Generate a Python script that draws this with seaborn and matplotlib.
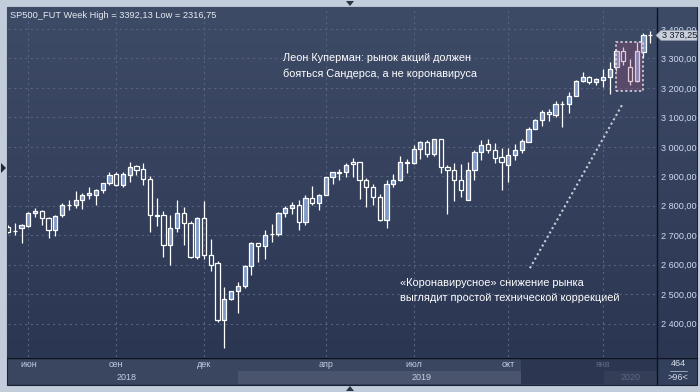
import numpy as np
import pandas as pd
import matplotlib
matplotlib.use("Agg")
import matplotlib.pyplot as plt
import seaborn as sns
from matplotlib.patches import Rectangle, Polygon
from matplotlib.lines import Line2D
from matplotlib.colors import LinearSegmentedColormap

# ---------------- data (weekly bars) ----------------
opens = [2728, 2716, 2726, 2731, 2777, 2781, 2760, 2719, 2770, 2802,
         2801, 2818, 2836, 2835, 2852, 2876, 2907, 2872, 2906, 2934,
         2926, 2892, 2768, 2767, 2668, 2723, 2777, 2743, 2626, 2757,
         2634, 2604, 2411, 2485, 2509, 2528, 2595, 2672, 2662, 2703,
         2703, 2777, 2791, 2804, 2745, 2828, 2810, 2838, 2896, 2912,
         2913, 2948, 2948, 2886, 2862, 2831, 2750, 2875, 2889, 2950,
         2944, 2991, 3015, 2976, 3025, 2933, 2920, 2889, 2821, 2923,
         2981, 3008, 2988, 2965, 2939, 2971, 2988, 3018, 3062, 3090,
         3118, 3109, 3145, 3144, 3173, 3225, 3236, 3220, 3228, 3236,
         3272, 3324, 3270, 3222, 3321, 3380]
highs = [2733, 2740, 2737, 2778, 2793, 2784, 2762, 2768, 2809, 2819,
         2849, 2844, 2862, 2856, 2878, 2915, 2915, 2913, 2947, 2940,
         2945, 2900, 2825, 2781, 2768, 2819, 2795, 2748, 2763, 2816,
         2686, 2614, 2523, 2511, 2540, 2598, 2676, 2674, 2717, 2737,
         2779, 2799, 2814, 2818, 2835, 2866, 2840, 2898, 2915, 2924,
         2946, 2963, 2950, 2895, 2875, 2841, 2887, 2909, 2968, 2960,
         3006, 3020, 3023, 3028, 3028, 2940, 2946, 2941, 2948, 2989,
         3022, 3027, 3014, 2997, 2997, 3008, 3026, 3066, 3095, 3124,
         3130, 3155, 3157, 3186, 3228, 3254, 3242, 3233, 3263, 3288,
         3332, 3338, 3297, 3357, 3387, 3392.13]
lows = [2708, 2700, 2674, 2728, 2762, 2734, 2691, 2698, 2762, 2787,
        2791, 2789, 2823, 2801, 2844, 2870, 2866, 2864, 2881, 2905,
        2871, 2711, 2730, 2626, 2598, 2711, 2666, 2623, 2620, 2620,
        2579, 2405, 2316.75, 2480, 2436, 2521, 2564, 2609, 2620, 2677,
        2698, 2762, 2772, 2719, 2735, 2804, 2786, 2836, 2875, 2887,
        2897, 2898, 2823, 2796, 2802, 2748, 2725, 2862, 2883, 2911,
        2941, 2960, 2966, 2970, 2912, 2772, 2817, 2830, 2819, 2888,
        2955, 2980, 2946, 2853, 2880, 2954, 2980, 3016, 3060, 3071,
        3088, 3102, 3068, 3116, 3171, 3220, 3212, 3211, 3204, 3181,
        3258, 3278, 3210, 3220, 3302, 3353]
closes = [2712, 2713, 2733, 2777, 2781, 2760, 2719, 2765, 2801, 2801,
          2818, 2838, 2842, 2853, 2876, 2904, 2871, 2907, 2933, 2920,
          2891, 2767, 2766, 2668, 2723, 2777, 2743, 2626, 2757, 2634,
          2600, 2411, 2485, 2509, 2529, 2595, 2672, 2662, 2702, 2704,
          2777, 2791, 2804, 2745, 2828, 2810, 2838, 2896, 2913, 2915,
          2940, 2941, 2886, 2862, 2831, 2750, 2875, 2889, 2950, 2944,
          2991, 3015, 2976, 3025, 2932, 2920, 2889, 2855, 2923, 2981,
          3005, 2988, 2963, 2949, 2971, 2989, 3019, 3062, 3091, 3117,
          3110, 3144, 3146, 3172, 3225, 3236, 3220, 3229, 3236, 3263,
          3324, 3293, 3222, 3324, 3381, 3378.25]

month_labels = ["июн", "сен", "дек", "апр", "июл", "окт", "янв"]
month_pos = [3, 16, 29, 47, 60, 74, 88]
year_labels = ["2018", "2019", "2020"]
year_pos = [17.6, 61.2, 92.1]
price_ticks = [2400, 2500, 2600, 2700, 2800, 2900, 3000, 3100, 3200, 3300, 3400]
last_price = 3378.25
header = "SP500_FUT Week High = 3392,13 Low = 2316,75"
note1 = ["Леон Куперман: рынок акций должен", "бояться Сандерса, а не коронавируса"]
note2 = ["«Коронавирусное» снижение рынка", "выглядит простой технической коррекцией"]

df = pd.DataFrame({"open": opens, "high": highs, "low": lows, "close": closes})
df["bar"] = np.arange(len(df))
df["top"] = df[["open", "close"]].max(axis=1)
df["bot"] = df[["open", "close"]].min(axis=1)
df["up"] = df["close"] >= df["open"]

# ---------------- style ----------------
sns.set_theme(style="dark")
plt.rcParams["font.family"] = ["Liberation Sans", "DejaVu Sans"]

W, H = 700, 392
fig = plt.figure(figsize=(7, 3.92), dpi=100)
fig.patch.set_facecolor("#c3ccda")


def fx(x):
    return x / W


def fy(y):
    return 1 - y / H


# dark panel (behind everything)
fig.patches.append(Rectangle((fx(7), fy(385)), fx(697) - fx(7), fy(7) - fy(385),
                             transform=fig.transFigure, facecolor="#33405b",
                             edgecolor="#1b2233", lw=0.8, zorder=-5))

# gradient background for plot + price column
bg = fig.add_axes([fx(7), fy(357), fx(697) - fx(7), fy(7) - fy(357)], zorder=-2)
cmap = LinearSegmentedColormap.from_list("g", ["#3e4b67", "#2b3652"])
bg.imshow(np.linspace(0, 1, 256).reshape(-1, 1), aspect="auto", cmap=cmap,
          extent=[0, 1, 0, 1], origin="upper")
bg.axis("off")

# main axes
ax = fig.add_axes([fx(8), fy(357), fx(657) - fx(8), fy(8) - fy(357)], zorder=1)
ax.set_facecolor("none")
ax.set_xlim(0, 96)
ax.set_ylim(2286.6, 3471.3)
for s in ax.spines.values():
    s.set_visible(False)
ax.set_yticks(price_ticks)
ax.set_xticks(month_pos)
ax.grid(True, color="#56637f", linestyle=(0, (2, 3)), lw=0.8)
ax.tick_params(axis="x", labelbottom=False, length=0)
ax.yaxis.tick_right()
ax.tick_params(axis="y", length=0, pad=3, labelsize=6.6, labelcolor="#cfdbf0")
ax.set_yticklabels([f"{v:,.2f}".replace(",", " ").replace(".", ",") for v in price_ticks])

# candles
ax.vlines(df["bar"], df["top"], df["high"], color="white", lw=0.9, zorder=3)
ax.vlines(df["bar"], df["low"], df["bot"], color="white", lw=0.9, zorder=3)
u = df[df["up"]]
d = df[~df["up"]]
ax.bar(u["bar"], u["top"] - u["bot"], bottom=u["bot"], width=0.62,
       color="#7f9ac7", edgecolor="white", lw=0.9, zorder=4)
ax.bar(d["bar"], d["top"] - d["bot"], bottom=d["bot"], width=0.62,
       facecolor="none", edgecolor="white", lw=0.9, zorder=4)

# highlight box
ax.add_patch(Rectangle((90, 3189), 4, 168, facecolor="#a0507a", alpha=0.3,
                       edgecolor="none", zorder=5))
ax.add_patch(Rectangle((90, 3189), 4, 168, facecolor="none", edgecolor="#e2dde6",
                       lw=1.1, linestyle=(0, (1.5, 1.5)), zorder=6))

# dotted pointer line
ax.plot([77.2, 90.9], [2588, 3145], color="#c9cdd8", lw=1.5,
        linestyle=(0, (1, 1.4)), zorder=6)

# annotations
ax.text(40.7, 3301, note1[0], color="white", fontsize=7.8, va="center", ha="left", zorder=7)
ax.text(40.7, 3247, note1[1], color="white", fontsize=7.8, va="center", ha="left", zorder=7)
ax.text(58.0, 2537, note2[0], color="white", fontsize=7.9, va="center", ha="left", zorder=7)
ax.text(58.0, 2486, note2[1], color="white", fontsize=7.9, va="center", ha="left", zorder=7)

# header
fig.text(fx(10), fy(15), header, color="#e6ebf3", fontsize=6.7, va="center", ha="left", zorder=5)

# separators
fig.lines.append(Line2D([fx(657), fx(657)], [fy(8), fy(384)], transform=fig.transFigure,
                        color="#0d1320", lw=1.0, zorder=10))
fig.lines.append(Line2D([fx(8), fx(697)], [fy(357.5), fy(357.5)], transform=fig.transFigure,
                        color="#0d1320", lw=1.0, zorder=10))

# last price tag
tag = Polygon([[fx(656), fy(35.4)], [fx(661), fy(30.5)], [fx(697), fy(30.5)],
               [fx(697), fy(40.3)], [fx(661), fy(40.3)]], closed=True,
              transform=fig.transFigure, facecolor="#c9d0dc", edgecolor="#9aa4b4",
              lw=0.5, zorder=11)
fig.patches.append(tag)
fig.text(fx(662), fy(35.6), f"{last_price:,.2f}".replace(",", " ").replace(".", ","),
         color="#151b28", fontsize=6.6, va="center", ha="left", zorder=12)

# bottom time bar
bx = fig.add_axes([fx(8), fy(384), fx(657) - fx(8), fy(358) - fy(384)], zorder=1)
bx.set_xlim(0, 96)
bx.set_ylim(0, 1)
bx.axis("off")
bx.add_patch(Rectangle((0, 0), 96, 1, facecolor="#3a4660", edgecolor="none", zorder=0))
bx.add_patch(Rectangle((34.0, 0), 41.9, 0.5, facecolor="#4a556d", edgecolor="none", zorder=1))
bx.add_patch(Rectangle((75.9, 0), 20.1, 1, facecolor="#2c3650", edgecolor="none", zorder=1))
bx.add_patch(Rectangle((88.1, 0), 7.9, 0.5, facecolor="#343e57", edgecolor="none", zorder=2))
for lab, p in zip(month_labels, month_pos):
    col = "#5c6883" if p > 76 else "#c3cde0"
    bx.text(p, 0.74, lab, color=col, fontsize=6.5, ha="center", va="center", zorder=3)
for lab, p in zip(year_labels, year_pos):
    col = "#5c6883" if p > 76 else "#c3cde0"
    bx.text(p, 0.26, lab, color=col, fontsize=6.5, ha="center", va="center", zorder=3)

# bottom-right counters
fig.patches.append(Rectangle((fx(658), fy(384)), fx(697) - fx(658), fy(358) - fy(384),
                             transform=fig.transFigure, facecolor="#33405b",
                             edgecolor="none", zorder=-1))
fig.text(fx(678), fy(364), "464", color="#d3dbe8", fontsize=6.5, ha="center", va="center")
fig.lines.append(Line2D([fx(670), fx(687)], [fy(370.5), fy(370.5)], transform=fig.transFigure,
                        color="#aab4c6", lw=0.6))
fig.text(fx(678), fy(377), ">96<", color="#d3dbe8", fontsize=6.5, ha="center", va="center")

# frame triangles
fig.patches.append(Polygon([[fx(346), fy(1)], [fx(354), fy(1)], [fx(350), fy(6)]],
                           transform=fig.transFigure, facecolor="#2a3348", edgecolor="none"))
fig.patches.append(Polygon([[fx(346), fy(391)], [fx(354), fy(391)], [fx(350), fy(386)]],
                           transform=fig.transFigure, facecolor="#2a3348", edgecolor="none"))
fig.patches.append(Polygon([[fx(1), fy(163)], [fx(1), fy(173)], [fx(6), fy(168)]],
                           transform=fig.transFigure, facecolor="#1f2838", edgecolor="none"))

fig.savefig("out.png", dpi=100, facecolor=fig.get_facecolor())
